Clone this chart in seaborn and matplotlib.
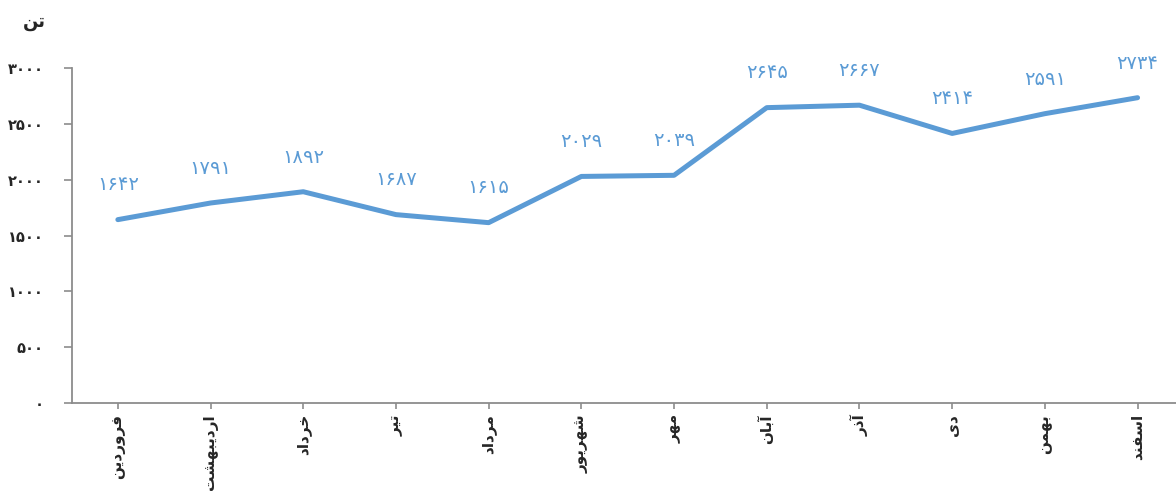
import numpy as np
import pandas as pd
import matplotlib
matplotlib.use("Agg")
import matplotlib.pyplot as plt
import seaborn as sns

# ---- data ----
months = ["فروردین", "اردیبهشت", "خرداد", "تیر", "مرداد", "شهریور",
          "مهر", "آبان", "آذر", "دی", "بهمن", "اسفند"]
values = [1642, 1791, 1892, 1687, 1615, 2029, 2039, 2645, 2667, 2414, 2591, 2734]
yticks = [0, 500, 1000, 1500, 2000, 2500, 3000]
unit_label = "تن"

# ---- minimal Arabic/Persian shaping (matplotlib does no shaping) ----
FORMS = {
    'ا': ('\uFE8D', '\uFE8E', None, None),
    'آ': ('\uFE81', '\uFE82', None, None),
    'ب': ('\uFE8F', '\uFE90', '\uFE91', '\uFE92'),
    'ت': ('\uFE95', '\uFE96', '\uFE97', '\uFE98'),
    'خ': ('\uFEA5', '\uFEA6', '\uFEA7', '\uFEA8'),
    'د': ('\uFEA9', '\uFEAA', None, None),
    'ذ': ('\uFEAB', '\uFEAC', None, None),
    'ر': ('\uFEAD', '\uFEAE', None, None),
    'س': ('\uFEB1', '\uFEB2', '\uFEB3', '\uFEB4'),
    'ش': ('\uFEB5', '\uFEB6', '\uFEB7', '\uFEB8'),
    'ف': ('\uFED1', '\uFED2', '\uFED3', '\uFED4'),
    'م': ('\uFEE1', '\uFEE2', '\uFEE3', '\uFEE4'),
    'ن': ('\uFEE5', '\uFEE6', '\uFEE7', '\uFEE8'),
    'ه': ('\uFEE9', '\uFEEA', '\uFEEB', '\uFEEC'),
    'و': ('\uFEED', '\uFEEE', None, None),
    'ی': ('\uFBFC', '\uFBFD', '\uFBFE', '\uFBFF'),
}


def shape(text):
    out = []
    n = len(text)
    for i, ch in enumerate(text):
        if ch not in FORMS:
            out.append(ch)
            continue
        prev = text[i - 1] if i > 0 else None
        nxt = text[i + 1] if i < n - 1 else None
        jp = prev in FORMS and FORMS[prev][2] is not None
        jn = FORMS[ch][2] is not None and nxt in FORMS
        iso, fin, ini, med = FORMS[ch]
        if jp and jn:
            out.append(med)
        elif jp:
            out.append(fin)
        elif jn:
            out.append(ini)
        else:
            out.append(iso)
    return "".join(out[::-1])


FA_DIGITS = str.maketrans("0123456789", "۰۱۲۳۴۵۶۷۸۹")


def fa_num(v):
    return str(v).translate(FA_DIGITS)


# ---- plot ----
sns.set_style("white")
plt.rcParams["font.family"] = ["DejaVu Sans"]

fig = plt.figure(figsize=(11.76, 4.95), dpi=100)
W, H = 1176, 495
ax = fig.add_axes([71.5 / W, (H - 403) / H, (W - 71.5) / W, (403 - 68) / H])

df = pd.DataFrame({"pos": np.arange(len(months)), "value": values})
line_color = "#5B9BD5"
sns.lineplot(data=df, x="pos", y="value", ax=ax, color=line_color,
             linewidth=3.6, sort=False)

for x, v in zip(df["pos"], df["value"]):
    ax.annotate(fa_num(v), (x, v), xytext=(0, 21), textcoords="offset points",
                ha="center", va="baseline", color=line_color, fontsize=14,
                annotation_clip=False)

ax.set_xlim(-0.5, (W - 71.5) / 92.7 - 0.5)
ax.set_ylim(0, 3000)
ax.set_xticks(df["pos"])
ax.set_xticklabels([shape(m) for m in months], rotation=90, fontsize=11,
                   fontweight="bold", va="top", ha="center")
ax.set_yticks(yticks)
ax.set_yticklabels([fa_num(t) for t in yticks], fontsize=10.5, fontweight="bold")
ax.set_xlabel("")
ax.set_ylabel("")

for s in ["top", "right"]:
    ax.spines[s].set_visible(False)
for s in ["left", "bottom"]:
    ax.spines[s].set_color("#8c8c8c")
    ax.spines[s].set_linewidth(1.3)

ax.tick_params(axis="y", direction="out", length=6, width=1.2, color="#8c8c8c",
               pad=14, left=True)
ax.tick_params(axis="x", direction="out", length=4, width=1.2, color="#8c8c8c",
               pad=4, bottom=True)

fig.text(34 / W, 1 - 22 / H, shape(unit_label), fontsize=13, fontweight="bold",
         ha="center", va="center")

fig.savefig("out.png", dpi=100)
